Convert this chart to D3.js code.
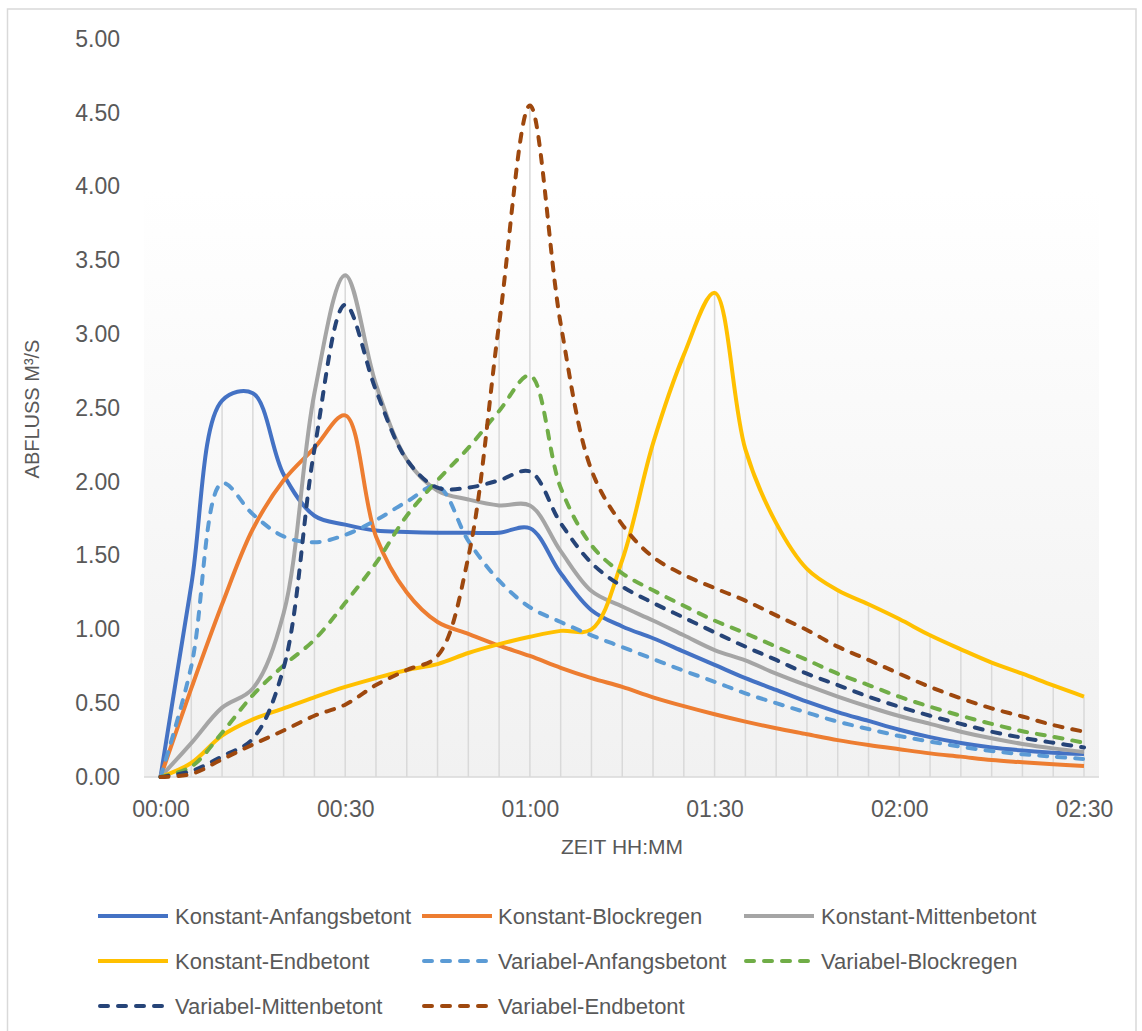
<!DOCTYPE html>
<html lang="de">
<head>
<meta charset="utf-8">
<title>Abfluss</title>
<script src="https://cdn.jsdelivr.net/npm/d3@7"></script>
<style>
  body { margin: 0; padding: 0; background: #fff; }
  svg { display: block; font-family: "Liberation Sans", Arial, sans-serif; }
  .tick text { fill: #595959; }
</style>
</head>
<body>
<div id="chart"></div>
<script>
  // time in minutes, one point every 5 min
  var minutes = [0, 5, 10, 15, 20, 25, 30, 35, 40, 45, 50, 55, 60, 65, 70, 75, 80, 85, 90, 95,
                 100, 105, 110, 115, 120, 125, 130, 135, 140, 145, 150];
  var xTicks = [0, 30, 60, 90, 120, 150];
  var xTickLabels = ["00:00", "00:30", "01:00", "01:30", "02:00", "02:30"];
  var yTicks = [0, 0.5, 1, 1.5, 2, 2.5, 3, 3.5, 4, 4.5, 5];

  var konstantAnfang = [0, 1.30, 2.55, 2.60, 2.05, 1.77, 1.71, 1.67, 1.66, 1.655, 1.655, 1.655, 1.685, 1.38, 1.13, 1.02,
                        0.94, 0.85, 0.76, 0.67, 0.59, 0.51, 0.44, 0.38, 0.32, 0.27, 0.23, 0.20, 0.18, 0.165, 0.155];
  var konstantBlock = [0, 0.60, 1.17, 1.68, 2.01, 2.23, 2.45, 1.63, 1.25, 1.05, 0.97, 0.89, 0.82, 0.74, 0.67, 0.61,
                       0.54, 0.48, 0.425, 0.375, 0.33, 0.29, 0.25, 0.217, 0.188, 0.16, 0.138, 0.115, 0.10, 0.086, 0.075];
  var konstantMitte = [0, 0.23, 0.47, 0.60, 1.11, 2.60, 3.40, 2.66, 2.15, 1.94, 1.88, 1.84, 1.84, 1.53, 1.26, 1.155,
                       1.06, 0.96, 0.86, 0.79, 0.70, 0.62, 0.545, 0.476, 0.413, 0.36, 0.307, 0.262, 0.224, 0.194, 0.17];
  var konstantEnd = [0, 0.095, 0.28, 0.39, 0.465, 0.54, 0.61, 0.67, 0.725, 0.765, 0.84, 0.90, 0.95, 0.99, 1.00, 1.47,
                     2.26, 2.86, 3.28, 2.22, 1.72, 1.41, 1.265, 1.17, 1.07, 0.96, 0.865, 0.775, 0.70, 0.62, 0.545];
  var variabelAnfang = [0, 0.75, 1.99, 1.78, 1.63, 1.59, 1.64, 1.74, 1.865, 1.97, 1.60, 1.33, 1.15, 1.05, 0.96, 0.88,
                        0.80, 0.72, 0.645, 0.567, 0.50, 0.436, 0.375, 0.325, 0.278, 0.24, 0.205, 0.176, 0.154, 0.138, 0.122];
  var variabelBlock = [0, 0.07, 0.30, 0.555, 0.755, 0.93, 1.18, 1.45, 1.77, 2.01, 2.23, 2.48, 2.72, 1.96, 1.57, 1.38,
                       1.265, 1.16, 1.06, 0.974, 0.883, 0.793, 0.70, 0.623, 0.544, 0.476, 0.415, 0.36, 0.31, 0.273, 0.232];
  var variabelMitte = [0, 0.04, 0.14, 0.26, 0.74, 2.22, 3.20, 2.62, 2.15, 1.96, 1.96, 2.01, 2.07, 1.72, 1.45, 1.29,
                       1.18, 1.08, 0.98, 0.883, 0.793, 0.70, 0.623, 0.544, 0.476, 0.415, 0.36, 0.307, 0.266, 0.232, 0.20];
  var variabelEnd = [0, 0.02, 0.12, 0.22, 0.315, 0.415, 0.49, 0.623, 0.725, 0.82, 1.49, 3.07, 4.55, 3.07, 2.08, 1.71,
                     1.49, 1.37, 1.28, 1.195, 1.095, 0.996, 0.883, 0.793, 0.70, 0.61, 0.533, 0.465, 0.41, 0.352, 0.307];

  var seriesNames = ["Konstant-Anfangsbetont", "Konstant-Blockregen", "Konstant-Mittenbetont", "Konstant-Endbetont",
                     "Variabel-Anfangsbetont", "Variabel-Blockregen", "Variabel-Mittenbetont", "Variabel-Endbetont"];
  var seriesValues = [konstantAnfang, konstantBlock, konstantMitte, konstantEnd,
                      variabelAnfang, variabelBlock, variabelMitte, variabelEnd];
  var colors = ["#4472C4", "#ED7D31", "#A5A5A5", "#FFC000", "#5B9BD5", "#70AD47", "#264478", "#9E480E"];
  var dashed = [false, false, false, false, true, true, true, true];

  var width = 1142, height = 1031;
  var plotLeft = 144, plotRight = 1099, plotTop = 24, plotBottom = 777;

  var svg = d3.select("#chart").append("svg")
      .attr("width", width)
      .attr("height", height);

  var defs = svg.append("defs");
  var grad = defs.append("linearGradient")
      .attr("id", "plotbg")
      .attr("x1", 0).attr("y1", 0).attr("x2", 0).attr("y2", 1);
  grad.append("stop").attr("offset", "0%").attr("stop-color", "#ffffff");
  grad.append("stop").attr("offset", "22%").attr("stop-color", "#ffffff");
  grad.append("stop").attr("offset", "100%").attr("stop-color", "#f1f1f1");

  // chart border
  svg.append("rect")
      .attr("x", 7.5).attr("y", 9)
      .attr("width", 1128.5).attr("height", 1040)
      .attr("fill", "#fff")
      .attr("stroke", "#d9d9d9")
      .attr("stroke-width", 1.5);

  svg.append("rect")
      .attr("x", plotLeft).attr("y", plotTop)
      .attr("width", plotRight - plotLeft).attr("height", plotBottom - plotTop)
      .attr("fill", "url(#plotbg)");

  var x = d3.scaleLinear().domain([0, 150]).range([160.5, 1084]);
  var y = d3.scaleLinear().domain([0, 5]).range([plotBottom, 39]);

  // drop lines: from the highest series value down to the axis
  var maxima = minutes.map(function(m, i) {
    return d3.max(seriesValues, function(s) { return s[i]; });
  });
  svg.append("g")
    .selectAll("line")
    .data(minutes)
    .enter().append("line")
      .attr("x1", function(d) { return x(d); })
      .attr("x2", function(d) { return x(d); })
      .attr("y1", y(0))
      .attr("y2", function(d, i) { return y(maxima[i]); })
      .attr("stroke", "#d9d9d9")
      .attr("stroke-width", 1.5);

  // x axis line
  svg.append("line")
      .attr("x1", plotLeft).attr("x2", plotRight)
      .attr("y1", plotBottom).attr("y2", plotBottom)
      .attr("stroke", "#d9d9d9")
      .attr("stroke-width", 1.5);

  var yAxis = svg.append("g")
      .attr("transform", "translate(" + plotLeft + ",0)")
      .call(d3.axisLeft(y).tickValues(yTicks).tickFormat(d3.format(".2f")).tickSize(0).tickPadding(24));
  yAxis.select(".domain").remove();
  yAxis.selectAll("text").style("font-size", "23px").style("font-family", "Liberation Sans, Arial, sans-serif");

  var xAxis = svg.append("g")
      .attr("transform", "translate(0," + plotBottom + ")")
      .call(d3.axisBottom(x).tickValues(xTicks)
        .tickFormat(function(d, i) { return xTickLabels[i]; })
        .tickSize(0).tickPadding(23.5));
  xAxis.select(".domain").remove();
  xAxis.selectAll("text").style("font-size", "23px").style("font-family", "Liberation Sans, Arial, sans-serif");

  // axis titles
  svg.append("text")
      .attr("transform", "translate(39,409) rotate(-90)")
      .attr("text-anchor", "middle")
      .attr("fill", "#595959")
      .style("font-size", "20px")
      .text("ABFLUSS M³/S");

  svg.append("text")
      .attr("x", 622).attr("y", 854)
      .attr("text-anchor", "middle")
      .attr("fill", "#595959")
      .style("font-size", "21px")
      .text("ZEIT HH:MM");

  // series
  var line = d3.line()
      .x(function(d, i) { return x(minutes[i]); })
      .y(function(d) { return y(d); })
      .curve(d3.curveCatmullRom.alpha(0.5));

  svg.append("g")
      .attr("fill", "none")
    .selectAll("path")
    .data(seriesValues)
    .enter().append("path")
      .attr("d", line)
      .attr("stroke", function(d, i) { return colors[i]; })
      .attr("stroke-width", 4)
      .attr("stroke-linecap", function(d, i) { return dashed[i] ? "round" : "butt"; })
      .attr("stroke-linejoin", "round")
      .attr("stroke-dasharray", function(d, i) { return dashed[i] ? "8,10" : null; });

  // legend
  var legendCols = [98, 422, 744];
  var legendRows = [916, 961, 1006];
  var legend = svg.append("g")
    .selectAll("g")
    .data(seriesNames)
    .enter().append("g")
      .attr("transform", function(d, i) {
        return "translate(" + legendCols[i % 3] + "," + legendRows[Math.floor(i / 3)] + ")";
      });

  legend.append("line")
      .attr("x1", function(d, i) { return dashed[i] ? 2 : 0; })
      .attr("x2", function(d, i) { return dashed[i] ? 68 : 70; })
      .attr("y1", 0).attr("y2", 0)
      .attr("stroke", function(d, i) { return colors[i]; })
      .attr("stroke-width", 4)
      .attr("stroke-linecap", function(d, i) { return dashed[i] ? "round" : "butt"; })
      .attr("stroke-dasharray", function(d, i) { return dashed[i] ? "8,10" : null; });

  legend.append("text")
      .attr("x", function(d, i) { return i % 3 === 1 ? 76 : 77; })
      .attr("y", 8)
      .attr("fill", "#595959")
      .style("font-size", "22px")
      .text(function(d) { return d; });
</script>
</body>
</html>
